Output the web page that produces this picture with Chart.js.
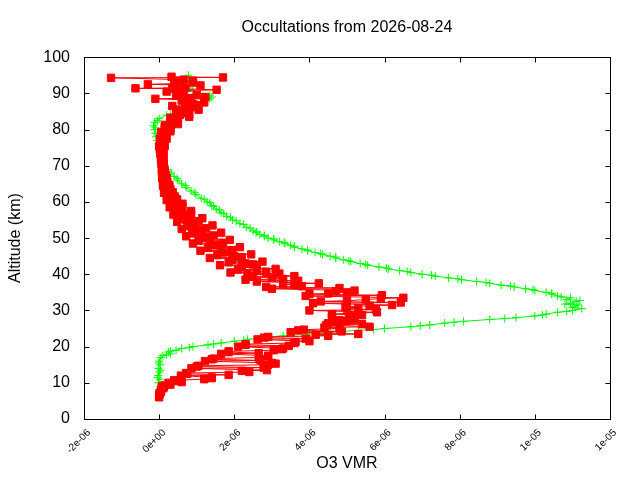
<!DOCTYPE html>
<html>
<head>
<meta charset="utf-8">
<title>Occultations</title>
<script src="https://cdn.jsdelivr.net/npm/chart.js@4.4.1/dist/chart.umd.min.js"></script>
<style>
    html, body { margin: 0; padding: 0; background: #fff; }
    #grafico { display: block; }
</style>
</head>
<body>
<canvas id="grafico" width="640" height="480"></canvas>
<script>
// ===== DADOS (VMR em unidades de 1e-6) =====
const titulo = "Occultations from 2026-08-24";
const xTitulo = "O3 VMR";
const yTitulo = "Altitude (km)";

// perfis vermelhos (quadrados)
const altA = [6, 8, 10, 12, 14, 16, 18, 20, 22, 24, 26, 28, 30, 32, 34, 36, 38, 40, 42, 44, 46, 48,
    50, 52, 54, 56, 58, 60, 62, 64, 66, 68, 70, 72, 74, 76, 78, 80, 82, 84, 86, 88, 90, 92, 94.3];
const vmrA = [0.0, 0.05, 0.25, 0.58, 0.86, 1.22, 1.65, 2.1, 2.62, 3.5, 4.45, 4.6, 4.0, 4.1, 3.9, 3.0, 2.6, 2.35, 2.2, 1.95, 1.7, 1.45,
    1.2, 1.0, 0.85, 0.68, 0.52, 0.4, 0.3, 0.22, 0.17, 0.13, 0.1, 0.08, 0.05, 0.06, 0.1, 0.2, 0.35, 0.55, 0.75, 0.6, 0.5, 0.45, -1.28];

const altB = [7, 9, 11, 13, 15, 17, 19, 21, 23, 25, 27, 29, 31, 33, 35, 37, 39, 41, 43, 45, 47, 49,
    51, 53, 55, 57, 59, 61, 63, 65, 67, 69, 71, 73, 75, 77, 79, 81, 83, 85, 87, 89, 91, 93, 94.4];
const vmrB = [0.02, 0.07, 1.2, 2.4, 2.9, 2.65, 3.05, 3.6, 4.5, 4.8, 5.0, 4.6, 4.96, 5.5, 5.0, 3.6, 3.0, 2.6, 2.3, 2.0, 1.65, 1.35,
    1.1, 0.9, 0.72, 0.58, 0.45, 0.33, 0.25, 0.2, 0.15, 0.12, 0.1, 0.1, 0.1, 0.12, 0.15, 0.3, 0.5, 0.7, 0.9, 1.23, 1.53, 0.9, 1.7];

const altC = [8.5, 10.5, 12.5, 14.5, 16.5, 18.5, 20.5, 22.5, 24.5, 26.5, 28.5, 30.5, 32.5, 34.5, 36.5, 38.5, 40.5, 42.5, 44.5, 46.5, 48.5, 50.5,
    52.5, 54.5, 56.5, 58.5, 60.5, 62.5, 64.5, 66.5, 68.5, 70.5, 72.5, 74.5, 76.5, 78.5, 80.5, 82.5, 84.5, 86.5, 88.5, 90.5, 91.4, 92.5, 94.6];
const vmrC = [0.1, 0.45, 0.75, 1.0, 1.4, 1.85, 2.3, 2.8, 3.7, 4.5, 5.1, 5.0, 4.3, 4.0, 2.85, 2.3, 1.9, 1.62, 1.35, 1.1, 0.9, 0.72,
    0.6, 0.48, 0.38, 0.28, 0.2, 0.13, 0.1, 0.08, 0.07, 0.06, 0.05, 0.02, 0.03, 0.08, 0.15, 0.3, 0.45, 0.35, -0.1, 0.2, -0.63, -0.3, 0.33];

const altD = [7.5, 9.5, 11.5, 13.5, 15.5, 17.5, 19.5, 21.5, 23.5, 25.5, 27.5, 29.5, 31.5, 33.5, 35.5, 37.5, 39.5, 41.5, 43.5, 45.5, 47.5, 49.5,
    51.5, 53.5, 55.5, 57.5, 59.5, 61.5, 63.5, 65.5, 67.5, 69.5, 71.5, 73.5, 75.5, 77.5, 79.5, 81.5, 83.5, 85.5, 87.5, 89.5, 91.5, 93.5];
const vmrD = [0.05, 0.3, 1.4, 2.87, 3.0, 2.9, 3.3, 4.0, 5.3, 5.6, 5.2, 5.8, 6.2, 6.5, 5.2, 4.25, 3.6, 3.1, 2.75, 2.45, 2.15, 1.88,
    1.65, 1.42, 1.15, 0.85, 0.62, 0.42, 0.3, 0.22, 0.17, 0.13, 0.12, 0.12, 0.15, 0.2, 0.3, 0.5, 0.8, 1.05, 1.2, 1.0, 0.7, 0.9];

const altE = [10.2, 12.2, 14.2, 16.2, 18.2, 20.2, 22.2, 24.2, 26.2, 28.2, 30.2, 32.2, 34.2, 36.2, 38.2, 40.2, 42.2, 44.2, 46.2, 48.2, 50.2,
    52.2, 54.2, 56.2, 58.2, 60.2, 62.2, 64.2, 66.2, 68.2, 70.2, 72.2, 74.2, 76.2, 78.2, 80.2, 82.2, 84.2, 86.2, 88.2, 90.2, 92.2, 93.8];
const vmrE = [0.6, 1.85, 2.78, 2.7, 2.65, 3.45, 3.9, 4.86, 5.4, 5.05, 5.77, 6.43, 5.93, 4.8, 3.7, 3.2, 2.6, 2.2, 1.9, 1.6, 1.35,
    1.15, 0.95, 0.75, 0.6, 0.45, 0.35, 0.27, 0.2, 0.15, 0.12, 0.1, 0.1, 0.12, 0.18, 0.3, 0.45, 0.8, 0.95, 0.8, 0.65, 1.1, 0.65];

const altF = [6.7, 8.7, 10.7, 12.7, 14.7, 16.7, 18.7, 20.7, 22.7, 24.7, 26.7, 28.7, 30.7, 32.7, 34.7, 36.7, 38.7, 40.7, 42.7, 44.7, 46.7, 48.7,
    50.7, 52.7, 54.7, 56.7, 58.7, 60.7, 62.7, 64.7, 66.7, 68.7, 70.7, 72.7, 74.7, 76.7, 78.7, 80.7, 82.7, 84.7, 86.7, 88.7, 90.7, 92.7];
const vmrF = [0.0, 0.12, 0.4, 0.72, 1.05, 1.45, 1.85, 2.3, 2.9, 3.85, 4.7, 5.4, 5.3, 5.0, 4.5, 3.8, 3.3, 2.85, 2.5, 2.2, 1.95, 1.7,
    1.45, 1.25, 1.05, 0.85, 0.62, 0.48, 0.36, 0.27, 0.2, 0.15, 0.12, 0.1, 0.08, 0.1, 0.15, 0.25, 0.42, 0.65, 1.0, 0.85, 0.55, 0.4];

const altG = [7.3, 9.3, 11.3, 13.3, 15.3, 17.3, 19.3, 21.3, 23.3, 25.3, 27.3, 29.3, 31.3, 33.3, 35.3, 37.3, 39.3, 41.3, 43.3, 45.3, 47.3, 49.3,
    51.3, 53.3, 55.3, 57.3, 59.3, 61.3, 63.3, 65.3, 67.3, 69.3, 71.3, 73.3, 75.3, 77.3, 79.3, 81.3, 83.3, 85.3, 87.3, 89.3, 91.3, 93.3];
const vmrG = [0.02, 0.15, 1.4, 2.2, 3.1, 2.9, 3.26, 3.63, 4.17, 4.4, 4.8, 5.3, 5.6, 5.9, 4.7, 3.3, 2.5, 2.1, 1.85, 1.55, 1.3, 1.05,
    0.88, 0.75, 0.6, 0.46, 0.35, 0.25, 0.18, 0.13, 0.1, 0.08, 0.05, 0.03, 0.0, 0.02, 0.05, 0.15, 0.3, 0.55, 0.7, 0.45, 0.35, 0.55];

// perfis verdes (cruzes)
const altVerde1 = [8, 9, 10, 11, 12, 13, 14, 15, 16, 17,
    17.5, 18, 18.5, 19, 19.5, 20, 20.5, 21, 21.5, 22,
    22.5, 23, 23.5, 24, 24.5, 25, 25.5, 26, 26.5, 27,
    27.5, 28, 28.5, 29, 29.5, 30, 30.5, 31, 31.5, 32,
    32.5, 33, 33.5, 34, 34.5, 35, 35.5, 36, 36.5, 37,
    37.5, 38, 38.5, 39, 39.5, 40, 40.5, 41, 41.5, 42,
    42.5, 43, 43.5, 44, 44.5, 45, 45.5, 46, 46.5, 47,
    47.5, 48, 48.5, 49, 49.5, 50, 50.5, 51, 51.5, 52,
    53, 54, 55, 56, 57, 58, 59, 60, 61, 62,
    63, 64, 65, 66, 67, 68, 69, 70, 71, 72,
    73, 74, 75, 76, 77, 78, 79, 80, 81, 82,
    83, 84, 84.5, 85, 86, 87, 88, 89, 89.5, 90,
    91, 92, 93, 94, 95];
const vmrVerde1 = [0.0, 0.03, -0.02, 0.02, -0.03, 0.01, -0.02, 0.03, 0.0, 0.05,
    0.1, 0.3, 0.25, 0.45, 0.6, 0.9, 1.3, 1.65, 2.0, 2.35,
    2.9, 3.3, 4.0, 4.55, 5.3, 6.0, 6.7, 7.2, 7.6, 8.1,
    8.8, 9.5, 10.0, 10.3, 10.6, 11.0, 11.25, 11.05, 11.15, 10.95,
    11.1, 10.85, 10.95, 10.6, 10.45, 10.3, 10.0, 9.75, 9.45, 9.1,
    8.8, 8.45, 8.05, 7.7, 7.35, 7.0, 6.7, 6.4, 6.1, 5.85,
    5.55, 5.35, 5.1, 4.9, 4.7, 4.55, 4.35, 4.15, 3.95, 3.8,
    3.6, 3.5, 3.35, 3.2, 3.05, 2.9, 2.8, 2.68, 2.58, 2.5,
    2.32, 2.15, 1.95, 1.8, 1.65, 1.52, 1.4, 1.28, 1.12, 0.98,
    0.85, 0.72, 0.6, 0.5, 0.4, 0.32, 0.22, 0.15, 0.1, 0.07,
    0.05, 0.02, 0.0, -0.02, -0.05, -0.08, -0.1, -0.12, -0.15, -0.12,
    0.0, 0.2, 0.5, 0.6, 0.85, 1.0, 1.25, 1.4, 1.35, 1.1,
    0.75, 0.7, 0.75, 0.8, 0.78];

const altVerde2 = [9.5, 11.5, 13.5, 15.5,
    17.75, 18.75, 19.75, 20.75, 21.75, 22.75, 23.75, 24.75, 25.75, 26.75,
    27.75, 28.75, 29.75, 30.75, 31.75, 32.75, 33.75, 34.75, 35.75, 36.75,
    37.75, 38.75, 39.75, 40.75, 41.75, 42.75, 43.75, 44.75, 45.75, 46.75,
    47.75, 48.75, 49.75, 50.75, 51.75, 52.75, 53.75, 54.75, 55.75, 56.75,
    57.75, 58.75, 59.75, 60.75,
    62.5, 64.5, 66.5, 68.5, 70.5, 72.5, 74.5, 76.5, 78.5, 80.5, 82.5,
    84, 85.5, 86.5, 87.5, 88.5, 90.5, 91.5, 92.5, 93.5];
const vmrVerde2 = [0.05, -0.04, 0.04, -0.01,
    0.2, 0.3, 0.8, 1.45, 2.25, 3.0, 4.4, 5.7, 6.95, 7.85,
    9.2, 10.2, 10.85, 11.0, 10.8, 11.2, 10.7, 10.45, 9.95, 9.35,
    8.7, 7.95, 7.25, 6.6, 6.05, 5.5, 5.05, 4.7, 4.3, 3.95,
    3.6, 3.33, 3.05, 2.8, 2.6, 2.42, 2.25, 2.05, 1.9, 1.72,
    1.6, 1.45, 1.35, 1.2,
    0.95, 0.7, 0.48, 0.25, 0.12, 0.08, 0.04, 0.0, -0.05, -0.1, -0.05,
    0.3, 0.7, 0.9, 1.15, 1.35, 0.9, 0.8, 0.7, 0.85];

// ===== EIXOS =====
const xMin = -2, xMax = 12, xPasso = 2;
const yMin = 0, yMax = 100, yPasso = 10;

// junta os perfis e ordena por altitude (como no arquivo original)
function juntar(alts, vmrs) {
    const pts = [];
    alts.forEach((a, k) => {
        a.forEach((h, i) => pts.push({ x: vmrs[k][i], y: h }));
    });
    return pts.sort((p, q) => p.y - q.y);
}

const pontosVermelhos = juntar(
    [altA, altB, altC, altD, altE, altF, altG],
    [vmrA, vmrB, vmrC, vmrD, vmrE, vmrF, vmrG]
);
const pontosVerdes = juntar([altVerde1, altVerde2], [vmrVerde1, vmrVerde2]);

// formato estilo gnuplot: 2e-06, 0e+00, 1e-05
function formatoTick(v) {
    if (Math.abs(v) < 1e-9) return "0e+00";
    const s = (v * 1e-6).toExponential(0);
    return s.replace(/e([+-])(\d)$/, "e$10$2");
}

// ===== MOLDURA COM TICKS PARA DENTRO =====
const moldura = {
    id: "moldura",
    afterDraw(chart) {
        const { ctx, chartArea: a, scales } = chart;
        const L = Math.round(a.left) + 0.5, R = Math.round(a.right) + 0.5;
        const T = Math.round(a.top) + 0.5, B = Math.round(a.bottom) + 0.5;
        const tam = 5;
        ctx.save();
        ctx.strokeStyle = "#000";
        ctx.lineWidth = 1;
        ctx.beginPath();
        scales.x.ticks.forEach(t => {
            const px = Math.round(scales.x.getPixelForValue(t.value)) + 0.5;
            ctx.moveTo(px, B); ctx.lineTo(px, B - tam);
            ctx.moveTo(px, T); ctx.lineTo(px, T + tam);
        });
        scales.y.ticks.forEach(t => {
            const py = Math.round(scales.y.getPixelForValue(t.value)) + 0.5;
            ctx.moveTo(L, py); ctx.lineTo(L + tam, py);
            ctx.moveTo(R, py); ctx.lineTo(R - tam, py);
        });
        ctx.stroke();
        ctx.strokeRect(L, T, R - L, B - T);
        ctx.restore();
    }
};

const fonte = "'Liberation Sans', Arial, sans-serif";

const ctx = document.getElementById("grafico").getContext("2d");

window.grafico = new Chart(ctx, {
    type: "scatter",
    data: {
        datasets: [
            {
                label: "vermelho",
                data: pontosVermelhos,
                showLine: true,
                borderColor: "#ff0000",
                borderWidth: 1,
                pointStyle: "rect",
                pointRadius: 5.2,
                pointBorderWidth: 1,
                pointBackgroundColor: "#ff0000",
                pointBorderColor: "#ff0000",
                fill: false,
                tension: 0
            },
            {
                label: "verde",
                data: pontosVerdes,
                showLine: true,
                borderColor: "#00ff00",
                borderWidth: 1,
                pointStyle: "cross",
                pointRadius: 4,
                pointBorderWidth: 1,
                pointBorderColor: "#00ff00",
                fill: false,
                tension: 0
            }
        ]
    },
    options: {
        responsive: false,
        animation: false,
        devicePixelRatio: 1,
        events: [],
        layout: { padding: { left: 0, right: 30, top: 0, bottom: 0 } },
        plugins: {
            legend: { display: false },
            tooltip: { enabled: false },
            title: {
                display: true,
                text: titulo,
                color: "#000",
                fullSize: false,
                font: { family: fonte, size: 16, weight: "normal" },
                padding: { top: 18, bottom: 20 }
            }
        },
        scales: {
            x: {
                type: "linear",
                min: xMin,
                max: xMax,
                grid: { display: false, drawTicks: false },
                border: { display: false },
                ticks: {
                    stepSize: xPasso,
                    autoSkip: false,
                    minRotation: 45,
                    maxRotation: 45,
                    padding: 8,
                    labelOffset: 5,
                    color: "#000",
                    font: { family: fonte, size: 10 },
                    callback: v => formatoTick(v)
                },
                title: {
                    display: true,
                    text: xTitulo,
                    color: "#000",
                    font: { family: fonte, size: 16 },
                    padding: { top: 0, bottom: 7 }
                },
                afterFit: s => { s.height = 61; }
            },
            y: {
                type: "linear",
                min: yMin,
                max: yMax,
                grid: { display: false, drawTicks: false },
                border: { display: false },
                ticks: {
                    stepSize: yPasso,
                    autoSkip: false,
                    padding: 14,
                    color: "#000",
                    font: { family: fonte, size: 16 }
                },
                title: {
                    display: true,
                    text: yTitulo,
                    color: "#000",
                    font: { family: fonte, size: 16 },
                    padding: { top: 6, bottom: 0 }
                },
                afterFit: s => { s.width = 84; }
            }
        }
    },
    plugins: [moldura]
});
</script>
</body>
</html>
